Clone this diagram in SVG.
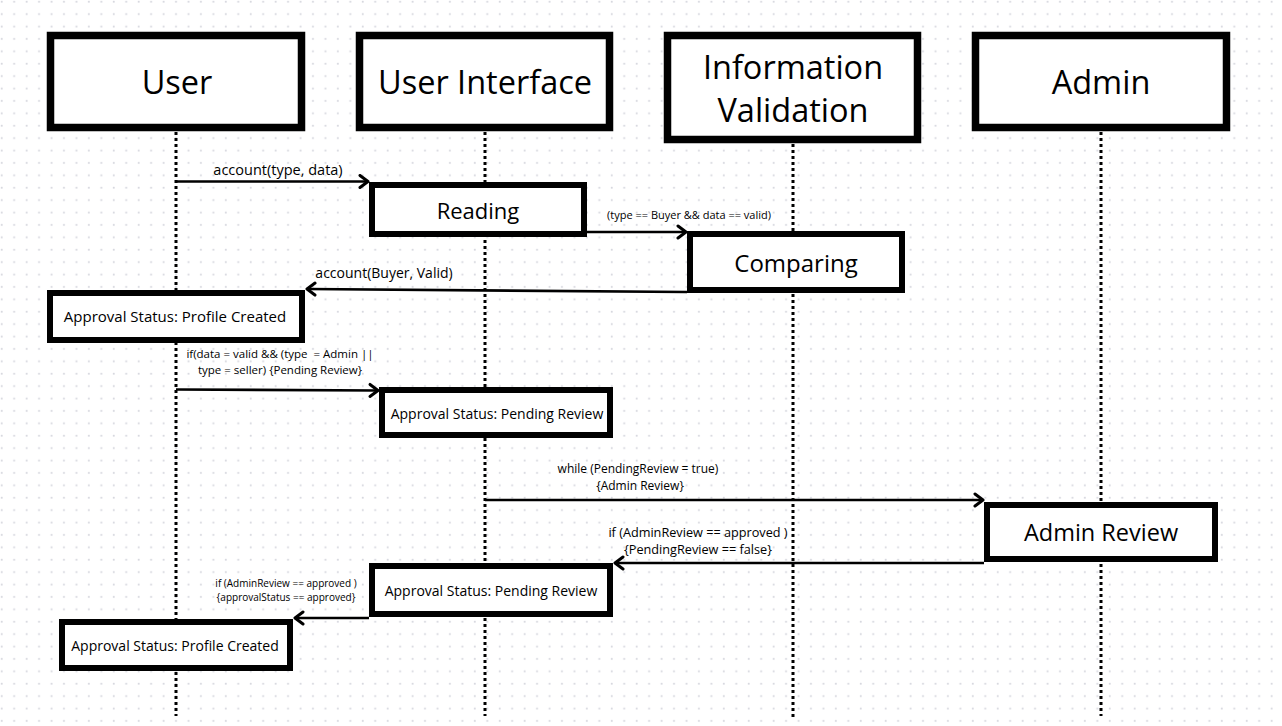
<svg xmlns="http://www.w3.org/2000/svg" width="1282" height="726" viewBox="0 0 1282 726">
  <defs>
    <pattern id="dots" x="0" y="0" width="12.45" height="12.4" patternUnits="userSpaceOnUse">
      <rect x="0.8" y="0.8" width="1.8" height="1.8" fill="#d6d7de"/>
    </pattern>
    <marker id="arr" markerUnits="userSpaceOnUse" markerWidth="16" markerHeight="16" refX="12" refY="8" orient="auto">
      <path d="M4,2 L12,8 L4,14" fill="none" stroke="#000" stroke-width="3" stroke-linecap="round" stroke-linejoin="round"/>
    </marker>
  </defs>
  <style>
    .hdr { fill: #fff; stroke: #000; stroke-width: 7.5; }
    .act { fill: #fff; stroke: #000; stroke-width: 6; }
    .life { stroke: #000; stroke-width: 3; stroke-dasharray: 3 3; fill: none; }
    .msg { stroke: #000; stroke-width: 2.6; fill: none; marker-end: url(#arr); }
    text { font-family: "Open Sans", "Noto Sans", "DejaVu Sans", sans-serif; fill: #000; text-anchor: middle; }
    .h { font-size: 32.5px; }
    .a { font-size: 24px; }
    .s { font-size: 14px; }
    .l { font-size: 14.5px; }
    .m { font-size: 12px; }
    .t { font-size: 10px; }
  </style>
  <rect width="1282" height="726" fill="#fff"/>
  <rect width="1282" height="726" fill="url(#dots)"/>

  <g id="lifelines">
    <line class="life" x1="176" y1="132" x2="176" y2="716"/>
    <line class="life" x1="485" y1="132" x2="485" y2="716"/>
    <line class="life" x1="793" y1="144" x2="793" y2="718"/>
    <line class="life" x1="1101" y1="132" x2="1101" y2="716"/>
  </g>

  <g id="user">
    <rect class="hdr" x="50.5" y="35.5" width="251" height="92"/>
    <text class="h" x="177" y="94">User</text>
  </g>
  <g id="user-interface">
    <rect class="hdr" x="359.5" y="35.5" width="250" height="92"/>
    <text class="h" x="485" y="94">User Interface</text>
  </g>
  <g id="information-validation">
    <rect class="hdr" x="667.5" y="35.5" width="250" height="104"/>
    <text class="h" x="793" y="79">Information</text>
    <text class="h" x="793" y="122">Validation</text>
  </g>
  <g id="admin">
    <rect class="hdr" x="975.5" y="35.5" width="251" height="92"/>
    <text class="h" x="1101" y="94">Admin</text>
  </g>

  <g id="reading">
    <rect class="act" x="372" y="185" width="212" height="49"/>
    <text class="a" x="478" y="219" style="font-size:22px">Reading</text>
  </g>
  <g id="comparing">
    <rect class="act" x="690" y="234" width="212" height="56"/>
    <text class="a" x="796" y="272">Comparing</text>
  </g>
  <g id="profile-created-1">
    <rect class="act" x="50" y="293" width="252" height="47"/>
    <text class="s" x="175" y="322" style="font-size:15px">Approval Status: Profile Created</text>
  </g>
  <g id="pending-review-1">
    <rect class="act" x="382" y="390" width="228" height="45"/>
    <text class="s" x="497" y="419">Approval Status: Pending Review</text>
  </g>
  <g id="admin-review">
    <rect class="act" x="987" y="505" width="228" height="54"/>
    <text class="a" x="1101" y="541" style="font-size:23.5px">Admin Review</text>
  </g>
  <g id="pending-review-2">
    <rect class="act" x="372" y="566" width="238" height="48"/>
    <text class="s" x="491" y="596">Approval Status: Pending Review</text>
  </g>
  <g id="profile-created-2">
    <rect class="act" x="62" y="622" width="228" height="46"/>
    <text class="s" x="175" y="651">Approval Status: Profile Created</text>
  </g>

  <g id="connectors">
    <line class="msg" x1="176" y1="181.5" x2="368" y2="181.5"/>
    <line class="msg" x1="587" y1="232" x2="686" y2="232"/>
    <line class="msg" x1="687" y1="292" x2="307" y2="289"/>
    <line class="msg" x1="176" y1="389.5" x2="378" y2="390.5"/>
    <line class="msg" x1="485" y1="500" x2="983" y2="500"/>
    <line class="msg" x1="984" y1="563" x2="615" y2="563"/>
    <line class="msg" x1="369" y1="618" x2="295" y2="618"/>
  </g>

  <g id="labels">
    <text class="l" x="278" y="175">account(type, data)</text>
    <text class="t" x="689" y="219" style="font-size:11px">(type == Buyer &amp;&amp; data == valid)</text>
    <text class="l" x="384" y="278" style="font-size:14px">account(Buyer, Valid)</text>
    <text class="m" x="280" y="358" style="font-size:11.5px" xml:space="preserve">if(data = valid &amp;&amp; (type  = Admin ||</text>
    <text class="m" x="280" y="374" style="font-size:11.5px">type = seller) {Pending Review}</text>
    <text class="m" x="638" y="473">while (PendingReview = true)</text>
    <text class="m" x="640" y="490">{Admin Review}</text>
    <text class="m" x="698" y="537" style="font-size:12.7px">if (AdminReview == approved )</text>
    <text class="m" x="698" y="554" style="font-size:12.7px">{PendingReview == false}</text>
    <text class="t" x="286" y="587">if (AdminReview == approved )</text>
    <text class="t" x="286" y="601">{approvalStatus == approved}</text>
  </g>
</svg>
